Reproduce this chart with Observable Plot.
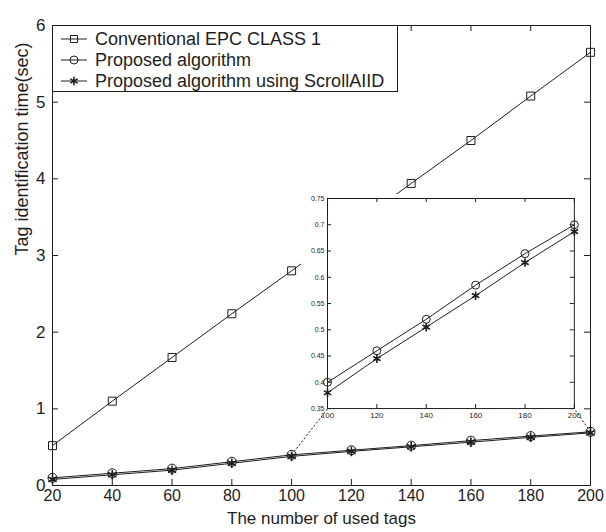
<!DOCTYPE html>
<html><head><meta charset="utf-8">
<script src="https://cdn.jsdelivr.net/npm/d3@7"></script>
<script src="https://cdn.jsdelivr.net/npm/@observablehq/plot@0.6"></script>
<style>
body{margin:0;background:#fff;}
#wrap{position:relative;width:606px;height:532px;overflow:hidden;font-family:"Liberation Sans",Arial,sans-serif;background:#fff;}
#wrap > svg, #wrap > div{position:absolute;}
</style></head><body><div id="wrap"></div>
<script>
// ---- data ----
const tags = [20, 40, 60, 80, 100, 120, 140, 160, 180, 200];
const conventional = [0.52, 1.10, 1.67, 2.24, 2.80, 3.37, 3.94, 4.50, 5.08, 5.65];
const proposed = [0.10, 0.16, 0.22, 0.31, 0.40, 0.46, 0.52, 0.585, 0.645, 0.70];
const scrollAIID = [0.08, 0.14, 0.20, 0.29, 0.38, 0.445, 0.505, 0.565, 0.628, 0.687];
const seriesNames = ["Conventional EPC CLASS 1", "Proposed algorithm", "Proposed algorithm using ScrollAIID"];
const seriesSymbols = ["square", "circle", "asterisk"];
const xTicks = [20, 40, 60, 80, 100, 120, 140, 160, 180, 200];
const yTicks = [0, 1, 2, 3, 4, 5, 6];
const insetTicksX = [100, 120, 140, 160, 180, 200];
const insetTicksY = [0.35, 0.4, 0.45, 0.5, 0.55, 0.6, 0.65, 0.7, 0.75];
const xLabel = "The number of used tags";
const yLabel = "Tag identification time(sec)";
// region of the main axes that the zoomed inset covers (main data units)
const insetBox = {x1: 112, x2: 194.6, y1: 1.0, y2: 3.74};

// ---- build ----
const ink = "#1e1e1e";
const font = '"Liberation Sans", Arial, sans-serif';
const values = [conventional, proposed, scrollAIID];
const rows = [];
seriesNames.forEach((s, k) => tags.forEach((t, i) => rows.push({series: s, k, x: t, y: values[k][i]})));

const W = 606, H = 532, mL = 52, mR = 16, mT = 25, mB = 47;
const tx = 6 * (200 - 20) / (W - mL - mR);
const ty = 6 * (6 - 0) / (H - mT - mB);

function seriesMarks(data, r) {
  const marks = [Plot.line(data, {x: "x", y: "y", z: "series", stroke: ink, strokeWidth: 1})];
  seriesSymbols.forEach((sym, k) => {
    marks.push(Plot.dot(data.filter(d => d.k === k), {x: "x", y: "y", symbol: sym, r,
      stroke: ink, strokeWidth: sym === "asterisk" ? 1.6 : 1, fill: "none"}));
  });
  return marks;
}

const connectors = [
  {x1: tags[4], y1: proposed[4], x2: insetBox.x1, y2: insetBox.y1},
  {x1: tags[9], y1: proposed[9], x2: insetBox.x2, y2: insetBox.y1}
];

const main = Plot.plot({
  width: W, height: H, marginLeft: mL, marginRight: mR, marginTop: mT, marginBottom: mB,
  style: {fontFamily: font, fontSize: "16px", color: ink, background: "transparent"},
  x: {domain: [20, 200]},
  y: {domain: [0, 6]},
  marks: [
    Plot.axisX({ticks: xTicks, tickSize: 0, tickPadding: 4, fontSize: 16, label: null, tickFormat: d => String(d)}),
    Plot.axisY({ticks: yTicks, tickSize: 0, tickPadding: 7, fontSize: 17, label: null, tickFormat: d => String(d)}),
    Plot.text([xLabel], {frameAnchor: "bottom", dy: 38, fontSize: 17, text: d => d, fill: ink}),
    Plot.text([yLabel], {frameAnchor: "left", dx: -30, rotate: -90, fontSize: 18, text: d => d, fill: ink}),
    Plot.ruleX(xTicks, {x: d => d, y1: 0, y2: ty, stroke: ink}),
    Plot.ruleX(xTicks, {x: d => d, y1: 6, y2: 6 - ty, stroke: ink}),
    Plot.ruleY(yTicks, {y: d => d, x1: 20, x2: 20 + tx, stroke: ink}),
    Plot.ruleY(yTicks, {y: d => d, x1: 200, x2: 200 - tx, stroke: ink}),
    ...seriesMarks(rows, 4.5),
    Plot.link(connectors, {x1: "x1", y1: "y1", x2: "x2", y2: "y2", stroke: ink, strokeDasharray: "2,2", strokeWidth: 1}),
    Plot.frame({stroke: ink})
  ]
});
const wrap = document.getElementById("wrap");
main.style.left = "0px"; main.style.top = "0px";
wrap.appendChild(main);

// ---- inset ----
const xs = main.scale("x"), ys = main.scale("y");
const px1 = xs.apply(insetBox.x1), px2 = xs.apply(insetBox.x2);
const py1 = ys.apply(insetBox.y2), py2 = ys.apply(insetBox.y1);
const iL = 30, iR = 10, iT = 4, iB = 18;
const iw = px2 - px1, ih = py2 - py1;
const bg = document.createElement("div");
bg.style.cssText = `left:${px1 - iL + 4}px;top:${py1 - iT}px;width:${iw + iL - 4}px;height:${ih + iT}px;background:#fff;`;
wrap.appendChild(bg);

const insetRows = rows.filter(d => d.k > 0 && d.x >= 100);
const itx = 4 * (200 - 100) / iw;
const ity = 4 * (0.75 - 0.35) / ih;
const inset = Plot.plot({
  width: iw + iL + iR, height: ih + iT + iB, marginLeft: iL, marginRight: iR, marginTop: iT, marginBottom: iB,
  style: {fontFamily: font, fontSize: "7px", color: ink, background: "transparent"},
  x: {domain: [100, 200]},
  y: {domain: [0.35, 0.75]},
  marks: [
    Plot.axisX({ticks: insetTicksX, tickSize: 0, tickPadding: 4, fontSize: 8, label: null, tickFormat: d => String(d)}),
    Plot.axisY({ticks: insetTicksY, tickSize: 0, tickPadding: 3, fontSize: 7, label: null, tickFormat: d => String(d)}),
    Plot.ruleX(insetTicksX, {x: d => d, y1: 0.35, y2: 0.35 + ity, stroke: ink}),
    Plot.ruleX(insetTicksX, {x: d => d, y1: 0.75, y2: 0.75 - ity, stroke: ink}),
    Plot.ruleY(insetTicksY, {y: d => d, x1: 100, x2: 100 + itx, stroke: ink}),
    Plot.ruleY(insetTicksY, {y: d => d, x1: 200, x2: 200 - itx, stroke: ink}),
    ...seriesMarks(insetRows, 4),
    Plot.frame({stroke: ink})
  ]
});
inset.style.left = (px1 - iL) + "px";
inset.style.top = (py1 - iT) + "px";
wrap.appendChild(inset);

// ---- legend ----
const lg = document.createElement("div");
lg.style.cssText = `left:${mL}px;top:${mT}px;width:346px;height:67px;border:1px solid ${ink};background:#fff;box-sizing:border-box;`;
const ns = "http://www.w3.org/2000/svg";
const symbolTypes = {square: d3.symbolSquare, circle: d3.symbolCircle, asterisk: d3.symbolAsterisk};
const lsvg = document.createElementNS(ns, "svg");
lsvg.setAttribute("width", 344); lsvg.setAttribute("height", 65);
lsvg.style.position = "absolute"; lsvg.style.left = "0"; lsvg.style.top = "0";
seriesNames.forEach((name, k) => {
  const y = 13 + k * 21;
  const ln = document.createElementNS(ns, "line");
  ln.setAttribute("x1", 8); ln.setAttribute("x2", 34); ln.setAttribute("y1", y); ln.setAttribute("y2", y);
  ln.setAttribute("stroke", ink);
  lsvg.appendChild(ln);
  const p = document.createElementNS(ns, "path");
  p.setAttribute("d", d3.symbol(symbolTypes[seriesSymbols[k]], Math.PI * 4 * 4)());
  p.setAttribute("transform", `translate(21,${y})`);
  p.setAttribute("fill", "none"); p.setAttribute("stroke", ink);
  p.setAttribute("stroke-width", seriesSymbols[k] === "asterisk" ? 1.6 : 1);
  lsvg.appendChild(p);
  const t = document.createElementNS(ns, "text");
  t.setAttribute("x", 42); t.setAttribute("y", y); t.setAttribute("dy", "0.35em");
  t.setAttribute("font-size", 18); t.setAttribute("font-family", font); t.setAttribute("fill", ink);
  t.textContent = name;
  lsvg.appendChild(t);
});
lg.appendChild(lsvg);
wrap.appendChild(lg);
</script></body></html>
